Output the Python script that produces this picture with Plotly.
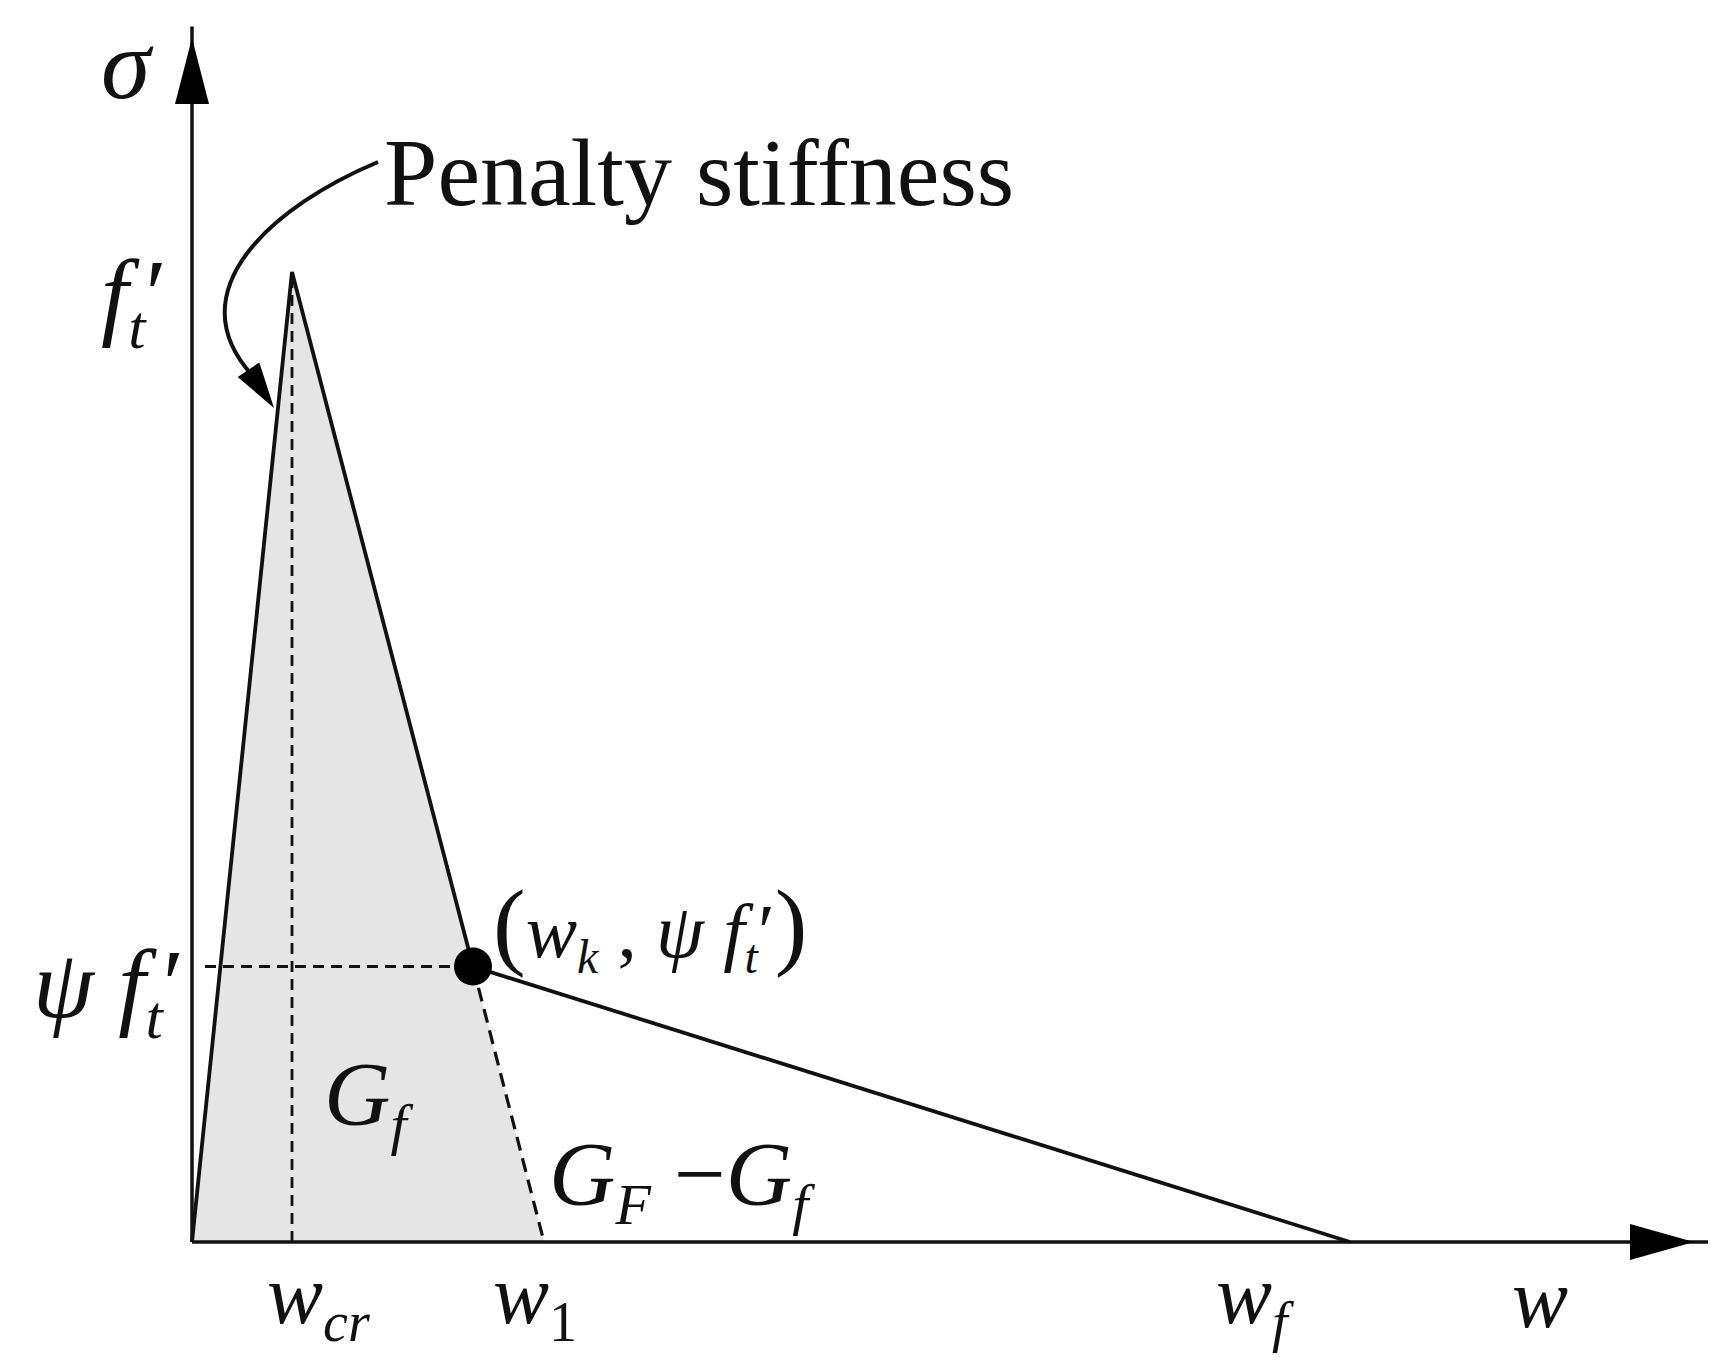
import math
import plotly.graph_objects as go

# ---- data (schematic traction-separation law) ----
w_cr = 1.0        # crack opening at peak
w_k = 2.81        # knee point opening
w_1 = 3.52        # intercept of first softening branch
w_f = 11.58       # final crack opening
f_t = 1.0         # tensile strength
psi = 0.284       # knee ratio
w_axis_end = 15.16
s_axis_end = 1.253

# screen-pixel -> data mapping helpers (decorations only)
PAGE_OFF = 8                     # browser body margin
FW, FH = 1720, 1358
OX, OY = 192, 1242
SX, SY = 100.0, 970.0
def X(px):
    return (px - OX) / SX
def Y(py):
    return (OY - py) / SY

fig = go.Figure()

# shaded region G_f
fig.add_trace(go.Scatter(
    x=[0, w_cr, w_k, w_1, 0], y=[0, f_t, psi * f_t, 0, 0],
    fill="toself", fillcolor="#e5e5e5", line=dict(width=0),
    mode="lines", hoverinfo="skip", showlegend=False))

# dashed guide lines
dash = "11px,7px"
fig.add_trace(go.Scatter(x=[w_cr, w_cr], y=[0, f_t], mode="lines",
                         line=dict(color="#111", width=2.8, dash=dash), showlegend=False))
fig.add_trace(go.Scatter(x=[X(205), w_k], y=[psi * f_t, psi * f_t], mode="lines",
                         line=dict(color="#111", width=2.8, dash=dash), showlegend=False))
fig.add_trace(go.Scatter(x=[w_k, w_1], y=[psi * f_t, 0], mode="lines",
                         line=dict(color="#111", width=3.2, dash="14px,8px"), showlegend=False))

# main law
fig.add_trace(go.Scatter(x=[0, w_cr, w_k, w_f], y=[0, f_t, psi * f_t, 0], mode="lines",
                         line=dict(color="#111", width=3.8), showlegend=False))

# knee point
fig.add_trace(go.Scatter(x=[w_k], y=[psi * f_t], mode="markers",
                         marker=dict(color="#000", size=38), showlegend=False))

shapes = []
# axes
shapes.append(dict(type="line", x0=0, y0=0, x1=w_axis_end, y1=0,
                   line=dict(color="#111", width=3.5)))
shapes.append(dict(type="line", x0=0, y0=0, x1=0, y1=s_axis_end,
                   line=dict(color="#111", width=3.5)))

def tri(p1, p2, p3):
    return "M {} {} L {} {} L {} {} Z".format(X(p1[0]), Y(p1[1]), X(p2[0]), Y(p2[1]), X(p3[0]), Y(p3[1]))

# arrow heads of axes
shapes.append(dict(type="path", path=tri((1694, 1242), (1630, 1224), (1630, 1260)),
                   fillcolor="#000", line=dict(width=0)))
shapes.append(dict(type="path", path=tri((192, 38), (175, 104), (209, 104)),
                   fillcolor="#000", line=dict(width=0)))

# curved pointer
curve = "M {} {} C {} {} {} {} {} {}".format(X(378), Y(162), X(275), Y(205), X(175), Y(290), X(252), Y(375))
shapes.append(dict(type="path", path=curve, line=dict(color="#111", width=4)))
tip = (274, 408)
d = (22, 33)
n = math.hypot(*d)
ux, uy = d[0] / n, d[1] / n
L, hw = 46, 13
bx, by = tip[0] - ux * L, tip[1] - uy * L
shapes.append(dict(type="path",
                   path=tri(tip, (bx - uy * hw, by + ux * hw), (bx + uy * hw, by - ux * hw)),
                   fillcolor="#000", line=dict(width=0)))

FONT = "Liberation Serif, Times New Roman, serif"
ann = []
def txt(t, px, py, size=94, xa="center", ya="middle"):
    ann.append(dict(text=t, x=X(px), y=Y(py), xref="x", yref="y", showarrow=False,
                    xanchor=xa, yanchor=ya, font=dict(family=FONT, size=size, color="#111")))

def sub(s, px):
    return "<sub><span style='font-size:{}px'><i>{}</i></span></sub>".format(px, s)

txt("Penalty stiffness", 382, 172, size=96, xa="left")
txt("<i>σ</i>", 127, 64, size=100)
txt("<i>f</i>" + sub("t", 62) + "′", 134, 300, size=98)
txt("<i>ψ f</i>" + sub("t", 62) + "′", 108, 990, size=98)
txt("<span style='font-size:98px'>(</span><i>w</i>" + sub("k", 48) + " , <i>ψ f</i>"
    + sub("t", 48) + "′<span style='font-size:98px'>)</span>", 650, 926, size=77)
txt("<i>G</i>" + sub("f", 58), 368, 1100, size=92)
txt("<i>G</i>" + sub("F", 58) + " −<i>G</i>" + sub("f", 58), 682, 1180, size=92)
txt("<i>w</i>" + sub("cr", 56), 318, 1300, size=84)
txt("<i>w</i>" + sub("1", 56).replace("<i>", "").replace("</i>", ""), 535, 1300, size=84)
txt("<i>w</i>" + sub("f", 56), 1255, 1300, size=84)
txt("<i>w</i>", 1540, 1298, size=84)

fig.update_layout(
    width=FW, height=FH, margin=dict(l=0, r=0, t=0, b=0),
    paper_bgcolor="white", plot_bgcolor="white",
    xaxis=dict(range=[X(PAGE_OFF), X(PAGE_OFF + FW)], visible=False, fixedrange=True),
    yaxis=dict(range=[Y(PAGE_OFF + FH), Y(PAGE_OFF)], visible=False, fixedrange=True),
    shapes=shapes, annotations=ann, showlegend=False,
)
fig.write_html("out.html")
